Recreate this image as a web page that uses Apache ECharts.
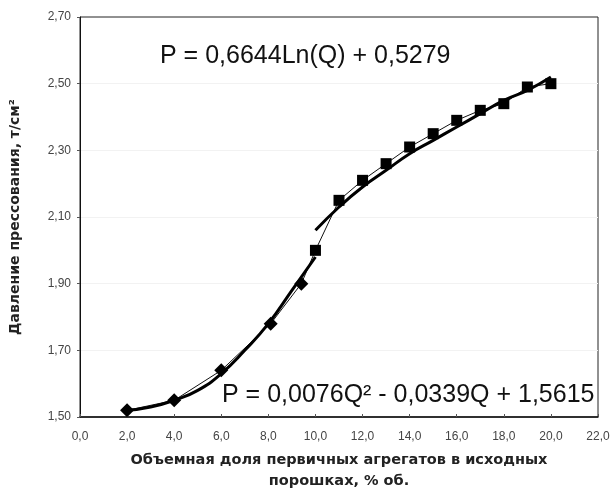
<!DOCTYPE html>
<html><head><meta charset="utf-8">
<script src="https://cdn.jsdelivr.net/npm/echarts/dist/echarts.min.js"></script>
<style>html,body{margin:0;padding:0;background:#fff}#c{width:614px;height:497px}</style>
</head><body><div id="c"></div>
<script>
// measured data points
const diamondX = [2.0, 4.0, 6.0, 8.1, 9.4];
const diamondY = [1.52, 1.55, 1.64, 1.78, 1.90];
const squareX = [10.0, 11.0, 12.0, 13.0, 14.0, 15.0, 16.0, 17.0, 18.0, 19.0, 20.0];
const squareY = [2.00, 2.15, 2.21, 2.26, 2.31, 2.35, 2.39, 2.42, 2.44, 2.49, 2.50];
// trend lines
const polyTrendX = [2, 3, 4, 5, 6, 7, 8, 9, 10];
const polyTrendY = [1.52, 1.53, 1.55, 1.58, 1.63, 1.70, 1.78, 1.88, 1.98];
const logTrendX = [10, 11, 12, 13, 14, 15, 16, 17, 18, 19, 20];
const logTrendY = [2.06, 2.13, 2.19, 2.24, 2.29, 2.33, 2.37, 2.41, 2.45, 2.48, 2.52];
// ticks
const yTicks = [1.50, 1.70, 1.90, 2.10, 2.30, 2.50, 2.70];
// texts
const xTitle = 'Объемная доля первичных агрегатов в исходных\nпорошках, % об.';
const yTitle = 'Давление прессования, т/см²';
const logEq = 'P = 0,6644Ln(Q) + 0,5279';
const polyEq = 'P = 0,0076Q² - 0,0339Q + 1,5615';

const zip = (xs, ys) => xs.map((x, i) => [x, ys[i]]);
const allPts = zip(diamondX, diamondY).concat(zip(squareX, squareY));

const chart = echarts.init(document.getElementById('c'), null, {renderer: 'canvas'});
const F = 'Liberation Sans, Arial, sans-serif';
chart.setOption({
  animation: false,
  backgroundColor: '#fff',
  grid: {left: 77, right: 16, top: 17, bottom: 76, show: true, borderColor: '#222', borderWidth: 1, containLabel: false},
  xAxis: {
    type: 'value', min: 0, max: 22, interval: 2,
    axisLine: {lineStyle: {color: '#111', width: 1.5}},
    axisTick: {show: true, inside: true, length: 3, lineStyle: {color: '#555'}},
    splitLine: {show: false},
    axisLabel: {color: '#444', fontFamily: F, fontSize: 12, margin: 14,
      formatter: v => v.toFixed(1).replace('.', ',')},
    name: xTitle, nameLocation: 'middle', nameGap: 33,
    nameTextStyle: {fontFamily: 'DejaVu Sans', fontWeight: 'bold', fontSize: 14.5, color: '#222', lineHeight: 21}
  },
  yAxis: {
    type: 'value', min: 1.5, max: 2.7,
    axisLine: {show: true, lineStyle: {color: '#111', width: 1}},
    axisTick: {show: true, length: 3, customValues: yTicks, lineStyle: {color: '#555'}},
    splitLine: {show: false},
    axisLabel: {color: '#444', fontFamily: F, fontSize: 12, margin: 9, customValues: yTicks,
      formatter: v => v.toFixed(2).replace('.', ',')},
    name: yTitle, nameLocation: 'middle', nameGap: 58,
    nameTextStyle: {fontFamily: 'DejaVu Sans', fontWeight: 'bold', fontSize: 14, color: '#222'}
  },
  series: [
    {
      type: 'line', data: [], symbol: 'none', z: 0, zlevel: 0,
      markLine: {silent: true, symbol: 'none', label: {show: false}, z: 0,
        lineStyle: {color: '#f2f2f2', type: 'solid', width: 1},
        data: yTicks.slice(1, -1).map(v => ({yAxis: v}))}
    },
    {
      type: 'line', data: allPts, showSymbol: false, symbol: 'none',
      lineStyle: {color: '#111', width: 1}, z: 2
    },
    {type: 'line', data: zip(polyTrendX, polyTrendY), smooth: true, symbol: 'none',
      lineStyle: {color: '#000', width: 3}, z: 3},
    {type: 'line', data: zip(logTrendX, logTrendY), smooth: true, symbol: 'none',
      lineStyle: {color: '#000', width: 3}, z: 3},
    {type: 'scatter', data: zip(diamondX, diamondY), symbol: 'diamond', symbolSize: 14,
      itemStyle: {color: '#000', opacity: 1}, z: 4},
    {type: 'scatter', data: zip(squareX, squareY), symbol: 'rect', symbolSize: 11,
      itemStyle: {color: '#000', opacity: 1}, z: 4}
  ],
  graphic: [
    {type: 'text', left: 160, top: 44, z: 10,
      style: {text: logEq, fontFamily: F, fontSize: 25, fill: '#111'}},
    {type: 'text', left: 222, top: 383, z: 10,
      style: {text: polyEq, fontFamily: F, fontSize: 25, fill: '#111'}}
  ]
});
</script></body></html>
